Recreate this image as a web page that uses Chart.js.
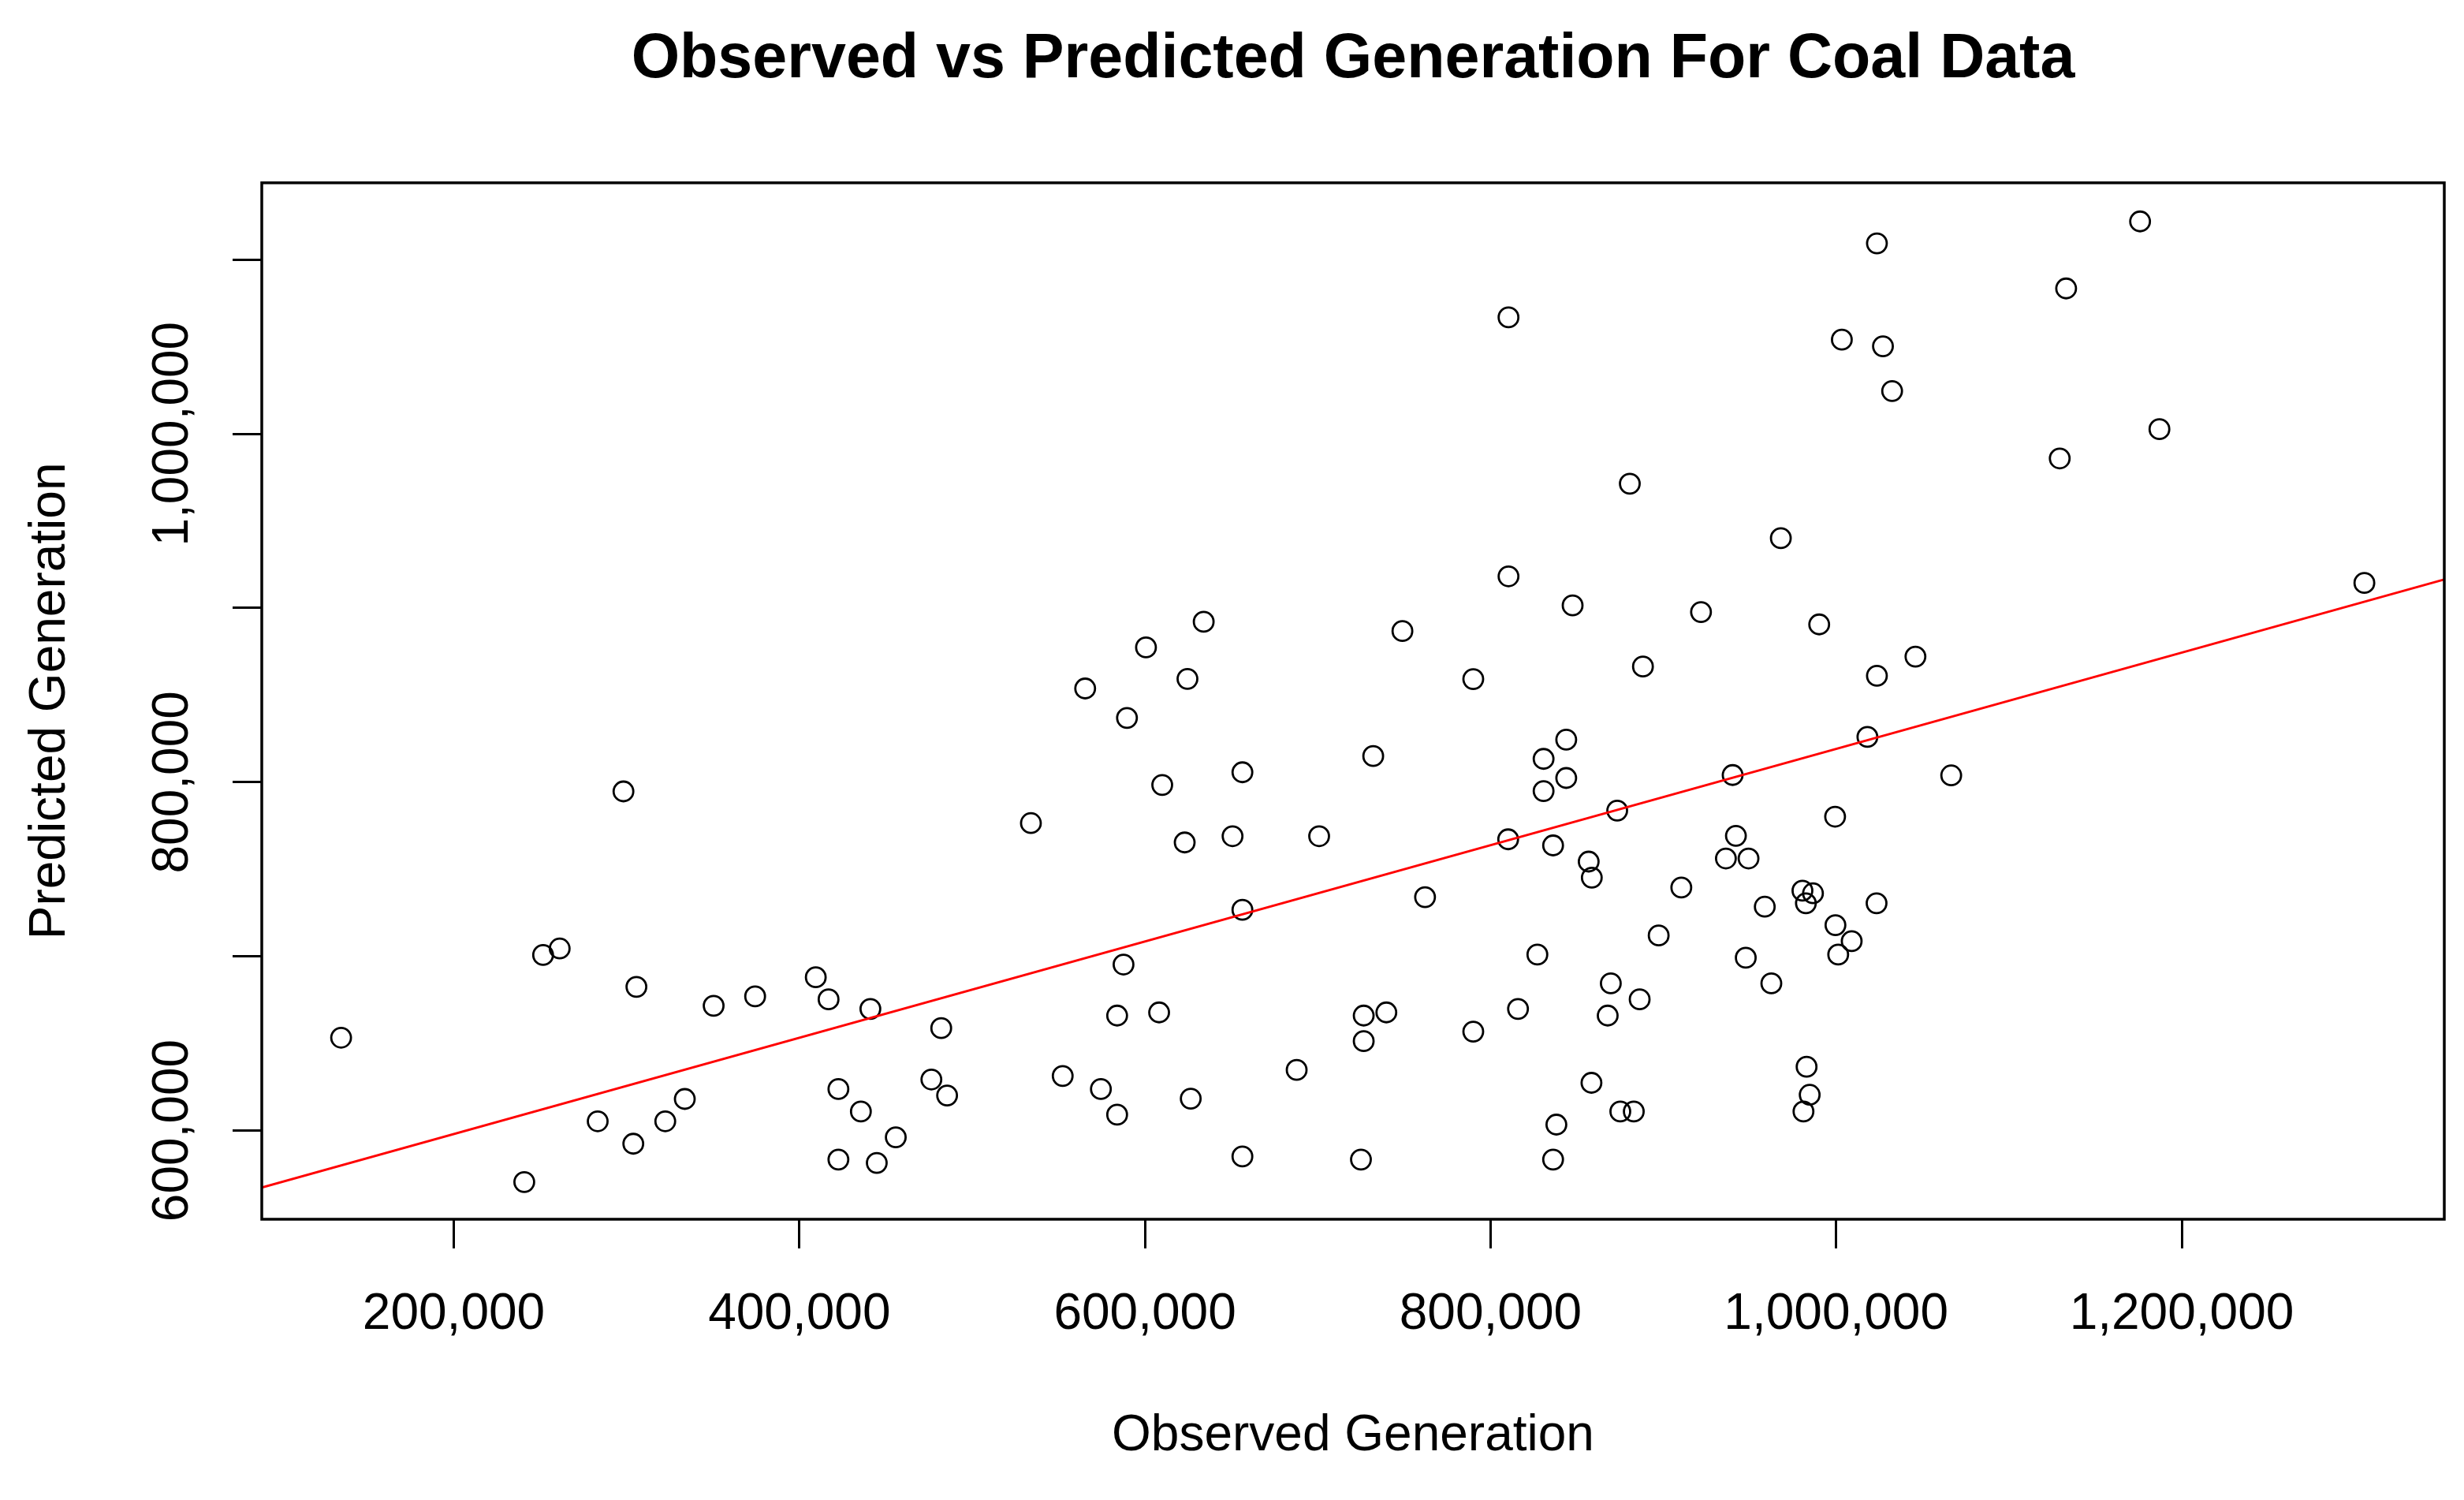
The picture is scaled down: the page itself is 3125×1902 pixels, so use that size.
<!DOCTYPE html>
<html lang="en">
  <head>
    <meta charset="UTF-8" />
    <title>Observed vs Predicted Generation For Coal Data</title>
    <script src="https://cdn.jsdelivr.net/npm/chart.js@4.4.0/dist/chart.umd.min.js"></script>
    <style>
      body { margin: 0; background: #ffffff; }
      #wrap { width: 3125px; height: 1902px; }
    </style>
  </head>
  <body>
    <div id="wrap"><canvas id="coal" width="3125" height="1902"></canvas></div>
    <script>
      // observed / predicted pairs
      var observed = [
        634000, 600600, 624600, 565400, 1023600, 810400, 1003300, 1027100, 1032400, 880600,
        968000, 810400, 847500, 921800, 990200, 749000, 790000, 888200, 1023600, 1175900,
        1133100, 1187100, 1129400, 1305700, 1045900, 298200, 251700, 261300, 305700, 350400,
        374400, 409500, 134800, 333700, 283300, 322400, 303900, 240800, 589600, 656400,
        610000, 534000, 623000, 650700, 700800, 656400, 587600, 416900, 441100, 482100,
        583900, 608200, 552400, 422600, 435600, 476400, 485500, 574500, 583900, 626500,
        687800, 455800, 422600, 444800, 656400, 732100, 843800, 830700, 843800, 830700,
        1018100, 940100, 873300, 810200, 999400, 942000, 936200, 949300, 836200, 856800,
        858600, 762100, 910400, 980500, 986600, 982500, 958700, 1023400, 999600, 1009000,
        1001200, 897300, 947700, 962500, 827100, 869600, 886300, 867800, 815900, 790000,
        726600, 739700, 726600, 858400, 838100, 875100, 882900, 982900, 984700, 981100,
        725000, 836200, 1066600
      ];
      var predicted = [
        892100, 877400, 859300, 853800, 1109400, 1066900, 1054100, 1050300, 1024600, 971400,
        940100, 918200, 901500, 897700, 890600, 886800, 859200, 866400, 861100, 1122000,
        1083500, 1002700, 985900, 914400, 872100, 794700, 700800, 704500, 682500, 671600,
        677000, 688000, 653300, 618100, 605300, 605300, 592400, 570400, 836900, 805700,
        798400, 776500, 765400, 769000, 769000, 726700, 695300, 675300, 669800, 658800,
        666000, 667800, 631300, 623800, 610900, 629300, 620100, 623800, 609100, 618300,
        634800, 596100, 583300, 581400, 585100, 815000, 824400, 813400, 802400, 794900,
        826000, 804100, 783700, 767200, 780200, 769200, 756200, 756200, 763700, 754400,
        745200, 734000, 739500, 737700, 736200, 730500, 728500, 730500, 717900, 708700,
        701000, 712000, 699200, 684500, 701000, 684500, 675300, 666000, 669800, 656800,
        666000, 667800, 651300, 627400, 603400, 610900, 610900, 636600, 620500, 610900,
        583300, 583300, 803900
      ];
      // red fitted line, end points at the plot edges
      var fitX = [88890, 1351770];
      var fitY = [567260, 916350];

      var xTicks = [200000, 400000, 600000, 800000, 1000000, 1200000];
      var yTicks = [600000, 700000, 800000, 900000, 1000000, 1100000];
      var yLabelled = [600000, 800000, 1000000];
      var xLimits = [88890, 1351950];
      var yLimits = [549050, 1144160];

      var fontName = "'Liberation Sans', Arial, sans-serif";

      function fmt(v) {
        return v.toLocaleString("en-US");
      }

      var points = [];
      for (var i = 0; i < observed.length; i++) {
        points.push({ x: observed[i], y: predicted[i] });
      }
      var fitPoints = [];
      for (var j = 0; j < fitX.length; j++) {
        fitPoints.push({ x: fitX[j], y: fitY[j] });
      }

      var plotBox = {
        id: "plotBox",
        afterDraw(chart) {
          const { ctx, chartArea } = chart;
          ctx.save();
          ctx.strokeStyle = "#000000";
          ctx.lineWidth = 3.5;
          ctx.strokeRect(
            chartArea.left,
            chartArea.top,
            chartArea.right - chartArea.left,
            chartArea.bottom - chartArea.top
          );
          ctx.restore();
        },
      };

      new Chart(document.getElementById("coal"), {
        type: "scatter",
        data: {
          datasets: [
            {
              type: "line",
              data: fitPoints,
              borderColor: "#ff0000",
              borderWidth: 2.8,
              pointRadius: 0,
              fill: false,
              order: 0,
            },
            {
              data: points,
              pointStyle: "circle",
              pointRadius: 12.5,
              pointBorderWidth: 2.8,
              borderColor: "#000000",
              backgroundColor: "rgba(0,0,0,0)",
              order: 1,
            },
          ],
        },
        options: {
          responsive: false,
          animation: false,
          devicePixelRatio: 1,
          layout: { padding: { top: 0, right: 25, bottom: 0, left: 0 } },
          plugins: {
            legend: { display: false },
            tooltip: { enabled: false },
            title: {
              display: true,
              fullSize: false,
              text: "Observed vs Predicted Generation For Coal Data",
              color: "#000000",
              font: { family: fontName, size: 79, weight: "bold" },
              padding: { top: 29, bottom: 108 },
            },
          },
          scales: {
            x: {
              type: "linear",
              min: xLimits[0],
              max: xLimits[1],
              border: { display: false },
              grid: {
                drawOnChartArea: false,
                drawTicks: true,
                tickLength: 37,
                tickWidth: 3,
                tickColor: "#000000",
              },
              afterBuildTicks(scale) {
                scale.ticks = xTicks.map(function (v) { return { value: v }; });
              },
              afterFit(scale) {
                scale.height = 356;
                scale.paddingLeft = 0;
                scale.paddingRight = 0;
              },
              ticks: {
                color: "#000000",
                font: { family: fontName, size: 64 },
                padding: 46,
                maxRotation: 0,
                autoSkip: false,
                callback: function (v) { return fmt(v); },
              },
              title: {
                display: true,
                text: "Observed Generation",
                color: "#000000",
                font: { family: fontName, size: 64 },
                padding: { top: 0, bottom: 42 },
              },
            },
            y: {
              type: "linear",
              min: yLimits[0],
              max: yLimits[1],
              border: { display: false },
              grid: {
                drawOnChartArea: false,
                drawTicks: true,
                tickLength: 37,
                tickWidth: 3,
                tickColor: "#000000",
              },
              afterBuildTicks(scale) {
                scale.ticks = yTicks.map(function (v) { return { value: v }; });
              },
              afterFit(scale) {
                scale.width = 332;
                scale.paddingTop = 0;
                scale.paddingBottom = 0;
              },
              ticks: {
                color: "#000000",
                font: { family: fontName, size: 64 },
                minRotation: 90,
                maxRotation: 90,
                crossAlign: "center",
                padding: -68,
                autoSkip: false,
                callback: function (v) {
                  return yLabelled.indexOf(v) >= 0 ? fmt(v) : "";
                },
              },
              title: {
                display: true,
                text: "Predicted Generation",
                color: "#000000",
                font: { family: fontName, size: 64 },
                padding: { top: 26, bottom: 0 },
              },
            },
          },
        },
        plugins: [plotBox],
      });
    </script>
  </body>
</html>
